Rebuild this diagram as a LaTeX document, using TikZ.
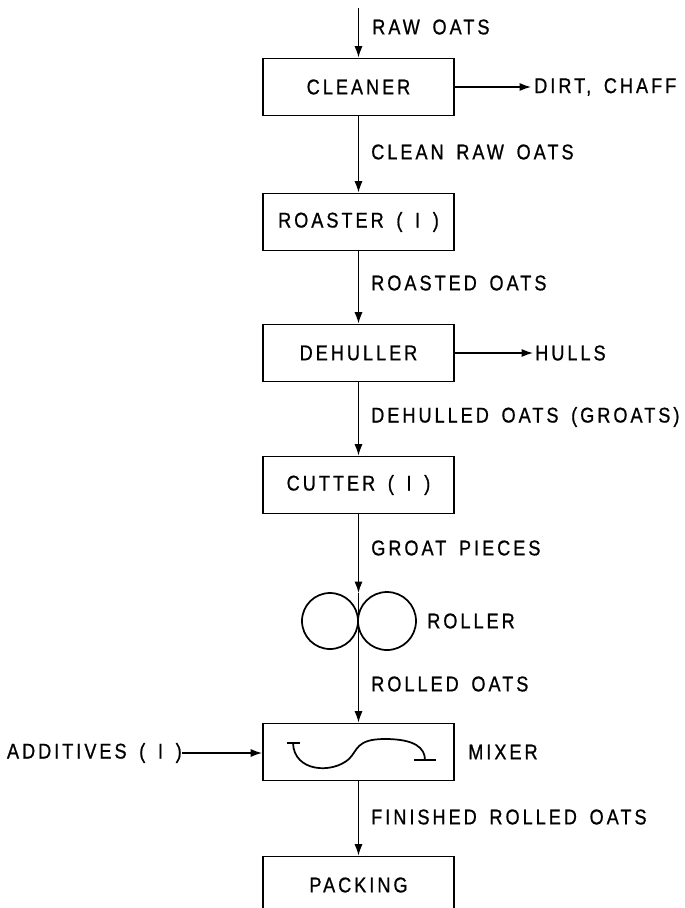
\documentclass[tikz,border=0pt]{standalone}
\usepackage{fontspec}
\setmainfont{Liberation Sans}[FakeStretch=0.85,LetterSpace=14,FakeBold=0.8]
\usetikzlibrary{arrows.meta}
\newcommand\wg{\hspace{9.5pt}}
\begin{document}
\begin{tikzpicture}[x=0.75pt,y=-0.75pt,
  font=\fontsize{16}{18}\selectfont,
  unit/.style={draw,line width=1.4pt,minimum width=191*0.75pt,minimum height=57*0.75pt,inner sep=0pt},
  flow/.style={line width=1pt,-{Latex[length=8.5pt,width=6pt]}},
  lab/.style={anchor=west,inner sep=0pt}]
\useasboundingbox (0,0) rectangle (685,908);
\fill[white] (0,0) rectangle (685,908);
% units
\node[unit] (cleaner) at (358.5,87) {CLEANER};
\node[unit] (roaster) at (358.5,222) {ROASTER\wg(\wg I\wg)};
\node[unit] (dehuller) at (358.5,353) {DEHULLER};
\node[unit] (cutter) at (358.5,485) {CUTTER\wg(\wg I\wg)};
\node[unit] (mixer) at (358.5,752) {};
\node[unit] (packing) at (358.5,885) {PACKING};
% roller
\draw[line width=1.3pt] (330,621) circle[radius=28];
\draw[line width=1.3pt] (387,621) circle[radius=29];
\coordinate (rtop) at (358.5,593);
\node[lab] (rollerlab) at (427,621) {ROLLER};
% mixer symbol
\draw[line width=1.3pt] (287,743) -- (300,743);
\draw[line width=1.3pt] (293,743) .. controls (294,772) and (332,774) .. (349,759)
  .. controls (358,750) and (356,739) .. (385,739)
  .. controls (415,739) and (425,748) .. (425,760);
\draw[line width=1.3pt] (414,760) -- (436,760);
\node[lab] (mixerlab) at (468,752) {MIXER};
% inputs / outputs
\coordinate (rawtop) at (358.5,8);
\node[lab] (rawlab) at (372,27) {RAW\wg OATS};
\draw[flow] (rawtop) -- (cleaner.north);
\coordinate (dirt) at (531,87);
\node[lab] (dirtlab) at (534,87) {DIRT,\wg CHAFF};
\draw[flow] (cleaner.east) -- (dirt);
\coordinate (hulls) at (533,353);
\node[lab] (hullslab) at (535,353) {HULLS};
\draw[flow] (dehuller.east) -- (hulls);
\node[anchor=east,inner sep=0pt] (additives) at (182,753) {ADDITIVES\wg(\wg I\wg)};
\draw[flow] (additives.east) -- (mixer.west|-additives.east);
% main flow
\draw[flow] (cleaner.south) -- (roaster.north);
\node[lab] at (371,152) {CLEAN\wg RAW\wg OATS};
\draw[flow] (roaster.south) -- (dehuller.north);
\node[lab] at (371,283) {ROASTED\wg OATS};
\draw[flow] (dehuller.south) -- (cutter.north);
\node[lab] at (371,417) {DEHULLED\wg OATS\wg (GROATS)};
\draw[flow] (cutter.south) -- (rtop);
\node[lab] at (371,548) {GROAT\wg PIECES};
\draw[flow] (rtop) -- (mixer.north);
\node[lab] at (371,684) {ROLLED\wg OATS};
\draw[flow] (mixer.south) -- (packing.north);
\node[lab] at (371,817) {FINISHED\wg ROLLED\wg OATS};
\end{tikzpicture}
\end{document}
